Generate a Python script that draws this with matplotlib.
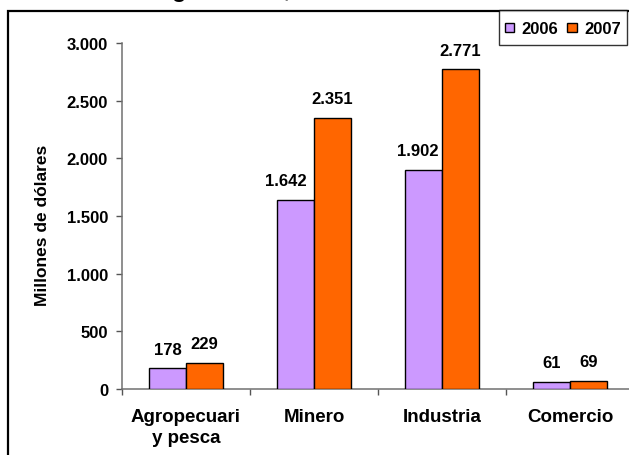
import matplotlib
matplotlib.use("Agg")
import matplotlib.pyplot as plt
import numpy as np
from matplotlib.ticker import FuncFormatter, FixedLocator
from matplotlib.patches import Rectangle
from matplotlib.legend_handler import HandlerPatch

categories = ["Agropecuari\ny pesca", "Minero", "Industria", "Comercio"]
series_names = ["2006", "2007"]
values_2006 = [178, 1642, 1902, 61]
values_2007 = [229, 2351, 2771, 69]
y_ticks = [0, 500, 1000, 1500, 2000, 2500, 3000]
title_text = "Inversión según rubro, 2006-2007"
y_label = "Millones de dólares"

colors = ["#CC99FF", "#FF6600"]
FONT = "Liberation Sans"
W, H = 629, 456
# small horizontal nudges (in points) of the value labels, as in the reference
label_dx_2006 = [0, -7, -4, 0]
label_dx_2007 = [0, 0, 0, 0]

fig = plt.figure(figsize=(W / 100, H / 100), dpi=100)
fig.patch.set_facecolor("white")

# outer frame (clipped by figure edges on right/bottom)
fig.patches.append(Rectangle((8 / W, -0.1), 1.2, 1 - 12 / H + 0.1, transform=fig.transFigure,
                             fill=False, edgecolor="black", linewidth=1.6, zorder=0))

# clipped title (only descenders visible)
fig.text(128 / W - 0.15, 1 + 3 / H, title_text, fontsize=17, fontweight="bold",
         family=FONT, va="baseline", ha="left")

left, right = 122 / W, 634 / W
bottom, top = 1 - 390 / H, 1 - 44 / H
ax = fig.add_axes([left, bottom, right - left, top - bottom])
ax.set_facecolor("none")

x = np.arange(len(categories))
bw = 0.29
b1 = ax.bar(x - bw / 2, values_2006, bw, color=colors[0], edgecolor="black", linewidth=1.0, label=series_names[0], zorder=3)
b2 = ax.bar(x + bw / 2, values_2007, bw, color=colors[1], edgecolor="black", linewidth=1.0, label=series_names[1], zorder=3)

fmt = lambda v: f"{int(v):,}".replace(",", ".")
for bars, vals, dxs in ((b1, values_2006, label_dx_2006), (b2, values_2007, label_dx_2007)):
    for rect, v, dx in zip(bars, vals, dxs):
        ax.annotate(fmt(v), (rect.get_x() + rect.get_width() / 2, v), xytext=(dx, 10.5),
                    textcoords="offset points", ha="center", va="baseline",
                    fontsize=12, fontweight="bold", family=FONT)

ax.set_xlim(-0.5, len(categories) - 0.5)
ax.set_ylim(0, 3000)
ax.set_yticks(y_ticks)
ax.yaxis.set_major_formatter(FuncFormatter(lambda v, p: fmt(v)))
ax.set_xticks(x)
ax.set_xticklabels(categories, fontsize=13.5, fontweight="bold", family=FONT, linespacing=1.3)
ax.xaxis.set_minor_locator(FixedLocator(np.arange(-0.5, len(categories), 1.0)))
ax.tick_params(axis="x", which="major", length=0, pad=14)
ax.tick_params(axis="x", which="minor", length=4, width=1, color="#555555", direction="out")
ax.tick_params(axis="y", length=4, width=1, color="#555555", pad=6, direction="out")
for lab in ax.get_yticklabels():
    lab.set_fontsize(12)
    lab.set_fontweight("bold")
    lab.set_family(FONT)

for s in ("top", "right"):
    ax.spines[s].set_visible(False)
for s in ("left", "bottom"):
    ax.spines[s].set_color("#707070")
    ax.spines[s].set_linewidth(1.1)

fig.text(43 / W, 1 - 225 / H, y_label, rotation=90, fontsize=12.5, fontweight="bold",
         family=FONT, ha="center", va="center")


def small_square(legend, orig_handle, xdescent, ydescent, width, height, fontsize):
    return Rectangle((-xdescent, -ydescent + (height - width) / 2), width, width)


h1, h2 = b1.patches[0], b2.patches[0]
leg = fig.legend(handles=[h1, h2], labels=series_names, loc="upper left",
                 bbox_to_anchor=(499 / W, 1 - 11 / H), ncol=2, frameon=True, fancybox=False,
                 prop={"family": FONT, "weight": "bold", "size": 12},
                 handlelength=0.55, handleheight=1.75, handletextpad=0.45, columnspacing=0.55,
                 borderpad=0.35, borderaxespad=0,
                 handler_map={h1: HandlerPatch(patch_func=small_square),
                              h2: HandlerPatch(patch_func=small_square)})
leg.get_frame().set_edgecolor("black")
leg.get_frame().set_linewidth(1.0)

fig.savefig("out.png", dpi=100)
